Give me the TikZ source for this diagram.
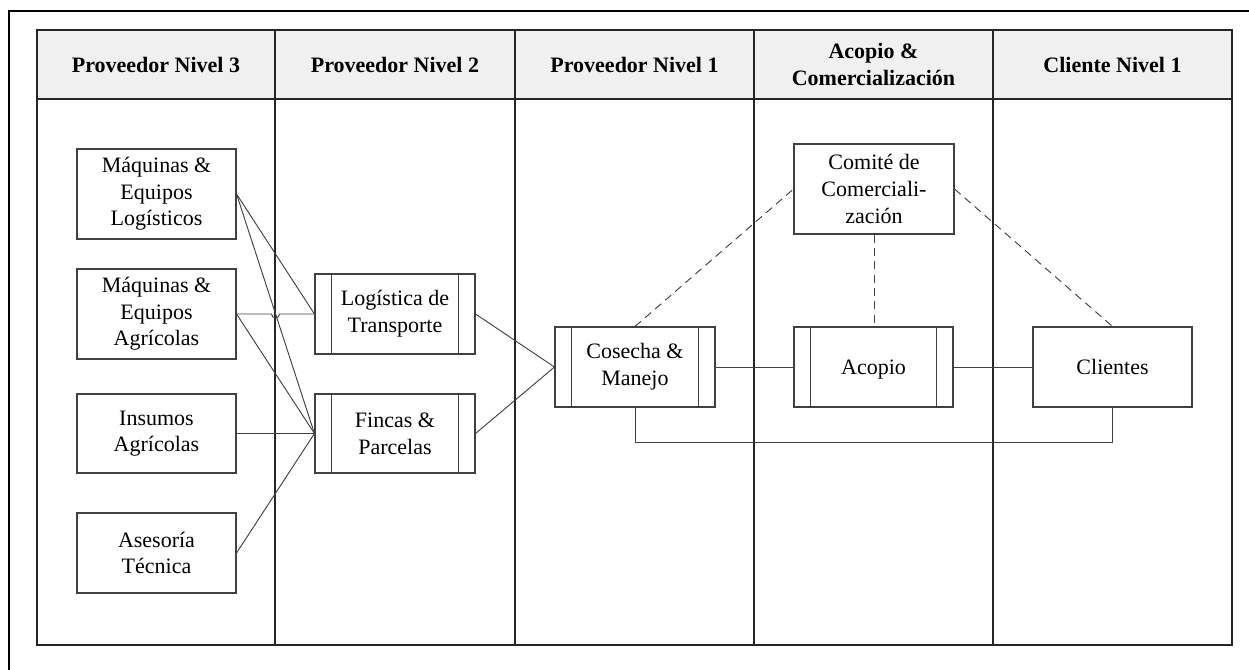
\documentclass[tikz,border=0pt]{standalone}
\usepackage{fontspec}
\setmainfont{Liberation Serif}
\definecolor{headgray}{HTML}{F0F0F0}
\definecolor{lanecol}{HTML}{262626}
\definecolor{boxcol}{HTML}{404040}
\tikzset{
  lane/.style={draw=lanecol, line width=1.5pt},
  headtxt/.style={font=\fontsize{16.5}{20}\selectfont\bfseries, align=center},
  box/.style={draw=boxcol, line width=0.8pt, fill=white, align=center,
    font=\fontsize{16.5}{20}\selectfont, inner sep=0pt, minimum width=119.25pt},
  proc/.style={box, minimum width=120pt, path picture={
    \draw[boxcol, line width=0.8pt]
      ([xshift=12.5pt]path picture bounding box.north west) -- ([xshift=12.5pt]path picture bounding box.south west)
      ([xshift=-12.5pt]path picture bounding box.north east) -- ([xshift=-12.5pt]path picture bounding box.south east);}},
  conn/.style={draw=boxcol, line width=0.7pt},
  dconn/.style={conn, dashed, dash pattern=on 6pt off 4pt}
}
\begin{document}
\begin{tikzpicture}[x=0.75pt, y=-0.75pt]
\useasboundingbox (0,0) rectangle (1249,669);
% outer frame
\draw[black, line width=1.6pt] (9,700) -- (9,11) -- (1260,11);
% swimlane table
\fill[headgray] (37,30) rectangle (1232,99);
\draw[lane] (37,30) rectangle (1232,645);
\draw[lane] (37,99) -- (1232,99);
\foreach \x in {275,515,754,993} \draw[lane] (\x,30) -- (\x,645);
% headers
\node[headtxt] (h1) at (156,64.5) {Proveedor Nivel 3};
\node[headtxt] (h2) at (395,64.5) {Proveedor Nivel 2};
\node[headtxt] (h3) at (634.5,64.5) {Proveedor Nivel 1};
\node[headtxt] (h4) at (873.5,64.5) {Acopio \&\\Comercialización};
\node[headtxt] (h5) at (1112.5,64.5) {Cliente Nivel 1};
% boxes
\node[box, minimum height=67.5pt] (mel) at (156.5,194) {Máquinas \&\\Equipos\\Logísticos};
\node[box, minimum height=67.5pt] (mea) at (156.5,314) {Máquinas \&\\Equipos\\Agrícolas};
\node[box, minimum height=59.25pt] (ins) at (156.5,433.5) {Insumos\\Agrícolas};
\node[box, minimum height=60pt] (ase) at (156.5,553) {Asesoría\\Técnica};
\node[proc, minimum height=60pt] (log) at (395,314) {Logística de\\Transporte};
\node[proc, minimum height=59.25pt] (fin) at (395,433.5) {Fincas \&\\Parcelas};
\node[proc, minimum height=60pt] (cos) at (635,367) {Cosecha \&\\Manejo};
\node[box, minimum width=120pt, minimum height=67.5pt] (com) at (874,189) {Comité de\\Comerciali-\\zación};
\node[proc, minimum width=119.25pt, minimum height=60pt, text depth=0pt] (aco) at (873.5,367) {Acopio};
\node[box, minimum height=60pt] (cli) at (1112.5,367) {Clientes};
% connectors
\draw[conn] (mel.east) -- (log.west);
\draw[conn] (mel.east) -- (fin.west);
\draw[conn] (mea.east) -- ++(35,0) arc[start angle=180, end angle=0, radius=4] -- (log.west);
\draw[conn] (mea.east) -- (fin.west);
\draw[conn] (ins.east) -- (fin.west);
\draw[conn] (ase.east) -- (fin.west);
\draw[conn] (log.east) -- (cos.west);
\draw[conn] (fin.east) -- (cos.west);
\draw[conn] (cos.east) -- (aco.west);
\draw[conn] (aco.east) -- (cli.west);
\draw[conn] (cos.south) -- ++(0,35) -| (cli.south);
\draw[dconn] (cos.north) -- (com.west);
\draw[dconn] (com.south) -- (com.south |- aco.north);
\draw[dconn] (com.east) -- (cli.north);
\end{tikzpicture}
\end{document}
